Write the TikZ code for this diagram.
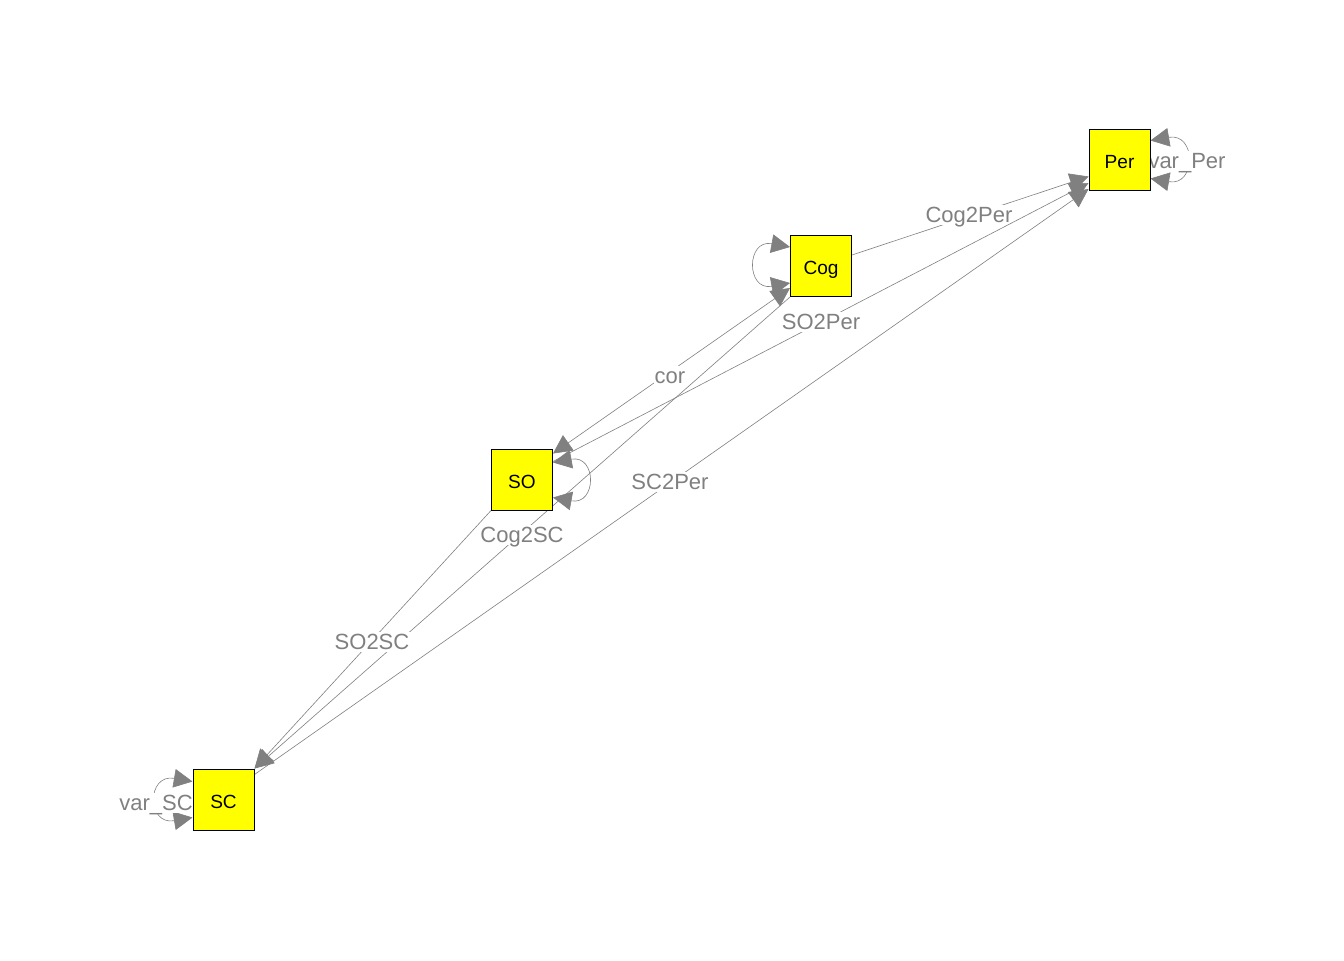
\documentclass[tikz,border=0pt]{standalone}
\usepackage{fontspec}
\setmainfont{Liberation Sans}
\usetikzlibrary{arrows.meta,calc}
\pgfdeclarelayer{bg}
\pgfdeclarelayer{edges}
\pgfsetlayers{bg,edges,main}
\definecolor{edgegray}{HTML}{808080}
\definecolor{boxyellow}{HTML}{FFFF00}
\tikzset{
  var/.style={draw=black, line width=0.75pt, fill=boxyellow, minimum size=45.75pt, inner sep=0pt, text height=16.2pt, text depth=3pt, font=\fontsize{14.3}{16}\selectfont},
  edge/.style={draw=edgegray, line width=0.45pt, -{Triangle[length=14pt,width=14pt]}, color=edgegray},
  biedge/.style={edge, {Triangle[length=14pt,width=14pt]}-{Triangle[length=14pt,width=14pt]}},
  elabel/.style={fill=white, text=edgegray, inner sep=0.4pt, text height=13.3pt, text depth=1.5pt, font=\fontsize{16.5}{18}\selectfont},
}
\begin{document}
\begin{tikzpicture}[x=0.75pt,y=-0.75pt]
\begin{pgfonlayer}{bg}
\fill[white] (0,0) rectangle (1344,960);
\end{pgfonlayer}
\useasboundingbox (0,0) rectangle (1344,960);
% nodes
\node[var] (Per) at (1119.5,159.5) {Per};
\node[var] (Cog) at (821,266) {Cog};
\node[var] (SO) at (522,479.5) {SO};
\node[var] (SC) at (223.5,799.5) {SC};
\begin{pgfonlayer}{edges}
% directed edges
\draw[edge] ($(Cog.east)+(0,-11)$) -- ($(Per.west)+(0,17)$);
\node[elabel] (lCogPer) at (969,215) {Cog2Per};
\draw[edge] ($(SO.east)+(0,-18)$) -- ($(Per.west)+(0,23.5)$);
\node[elabel] (lSOPer) at (821,322) {SO2Per};
\draw[edge] ($(SC.east)+(0,-25)$) -- ($(Per.west)+(0,29.5)$);
\node[elabel] (lSCPer) at (670,482) {SC2Per};
\draw[edge] (Cog.south west) -- (SC.north east);
\node[elabel] (lCogSC) at (522,535) {Cog2SC};
\draw[edge] (SO.south west) -- (SC.north east);
\node[elabel] (lSOSC) at (372,642) {SO2SC};
% covariance
\draw[biedge] ($(SO.east)+(0,-26)$) -- ($(Cog.south west)+(0,-9)$);
\node[elabel] (lcor) at (670,376) {cor};
% variance loops
\draw[biedge] ($(Per.east)+(0,-19)$) .. controls +(46,-8) and +(46,8) .. ($(Per.east)+(0,19)$);
\node[elabel] (lvarPer) at (1187,161) {var\_Per};
\draw[biedge] ($(Cog.west)+(0,-19)$) .. controls +(-44,-8) and +(-44,8) .. ($(Cog.west)+(0,17)$);
\draw[biedge] ($(SO.east)+(0,-17)$) .. controls +(44,-8) and +(44,8) .. ($(SO.east)+(0,18)$);
\draw[biedge] ($(SC.west)+(0,-18)$) .. controls +(-46,-8) and +(-46,8) .. ($(SC.west)+(0,18)$);
\node[elabel] (lvarSC) at (156,803) {var\_SC};
\end{pgfonlayer}
\end{tikzpicture}
\end{document}
